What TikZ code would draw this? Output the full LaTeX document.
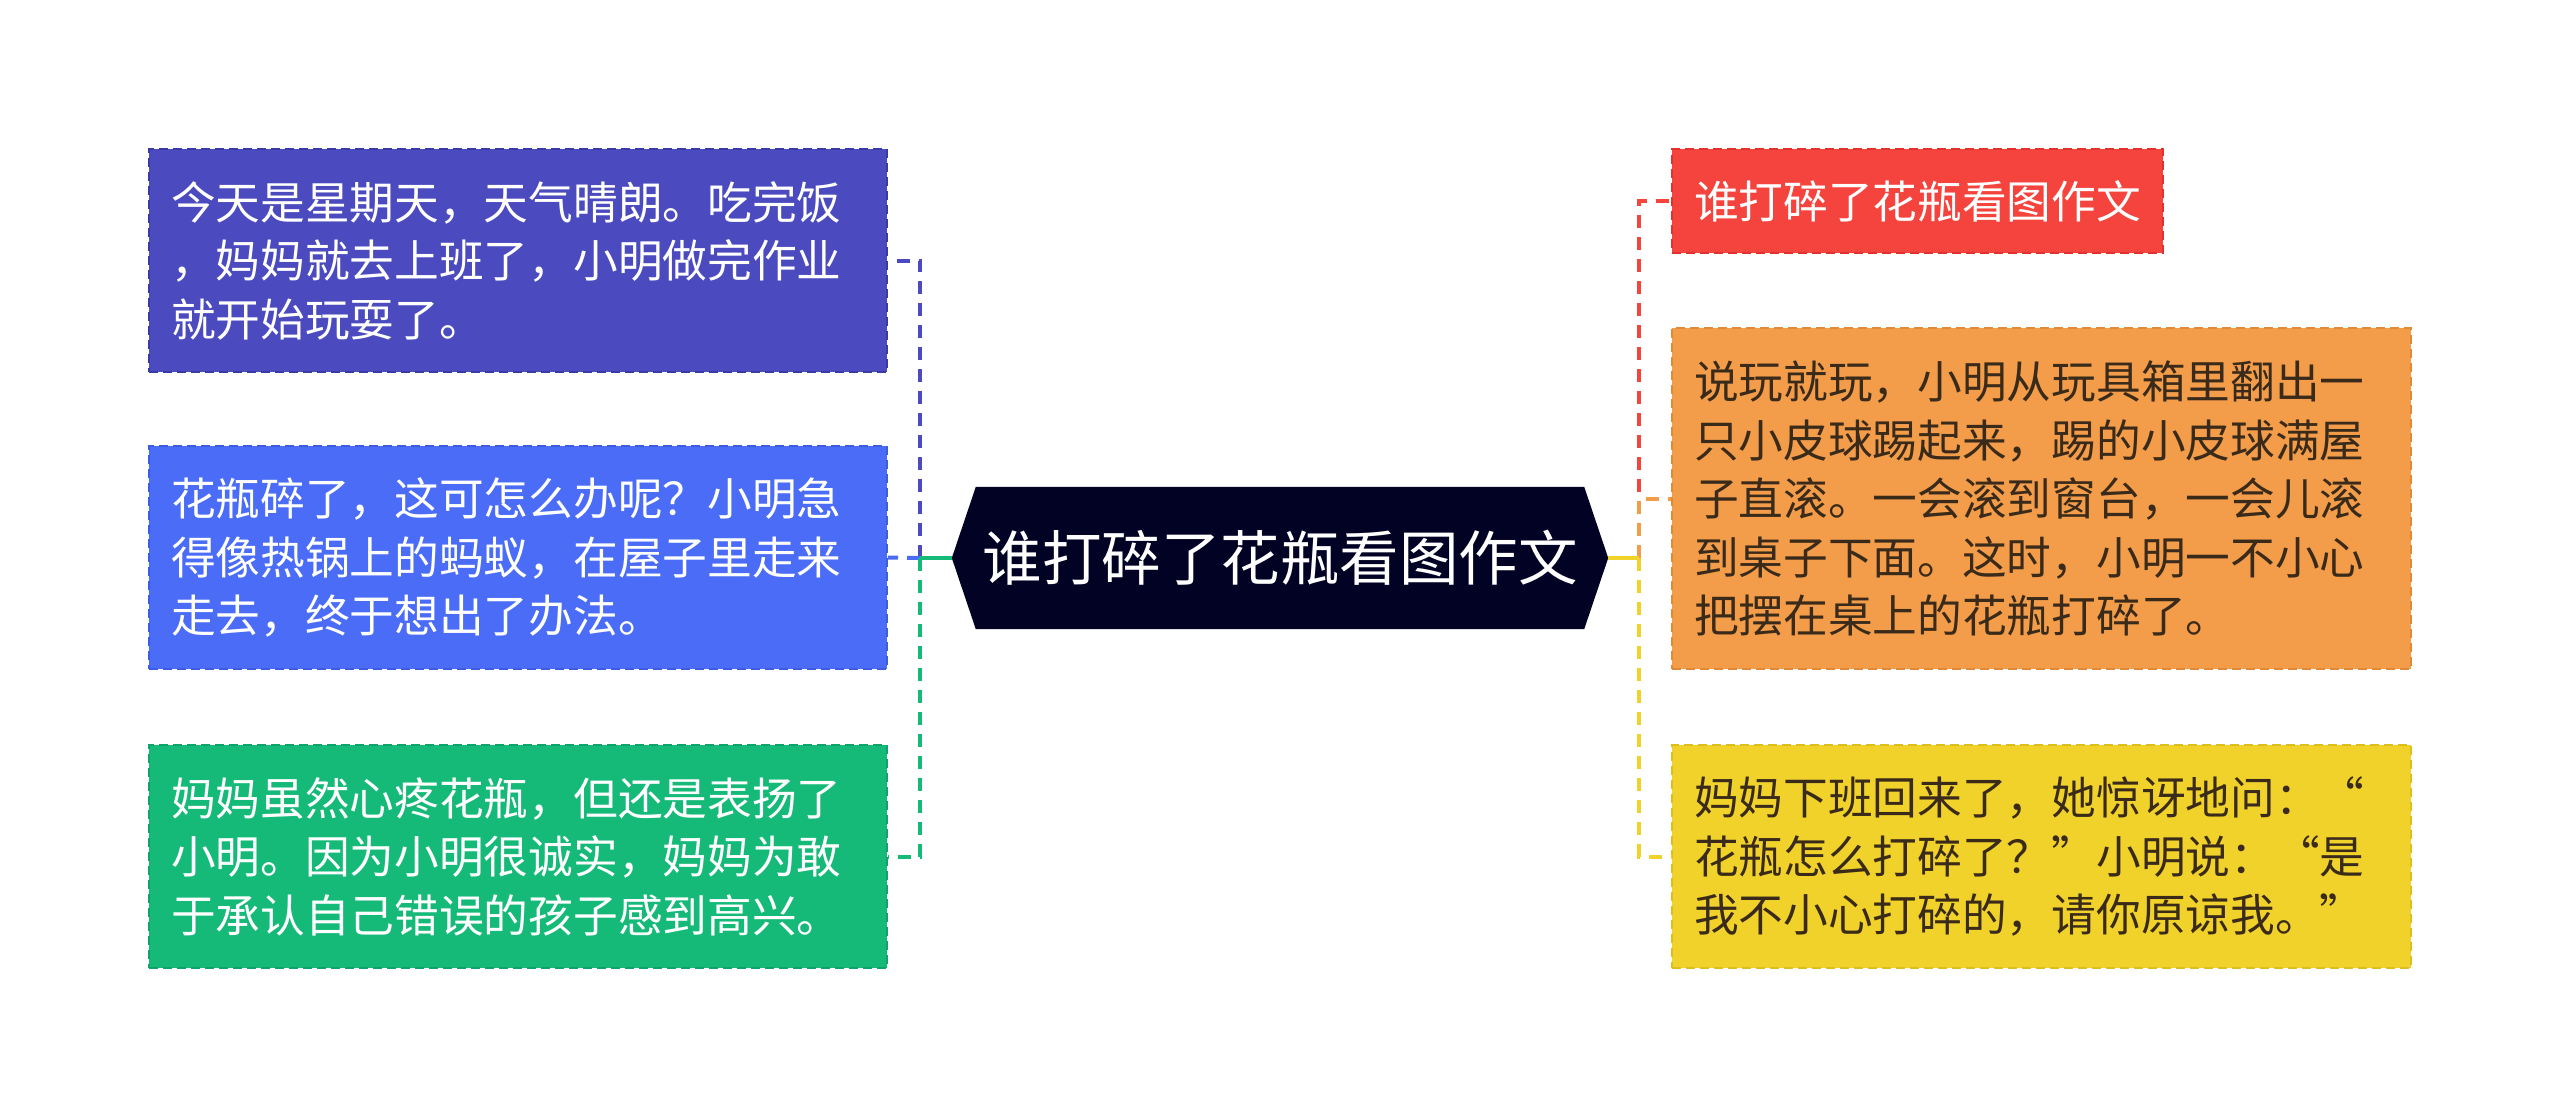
\documentclass[tikz,border=0pt]{standalone}
\usepackage{fontspec}
\newfontfamily\cjk{Noto Sans CJK SC}
\usetikzlibrary{calc,backgrounds}
\definecolor{cIndigo}{HTML}{4B4BBF}
\definecolor{cIndigoD}{HTML}{3A3AA6}
\definecolor{cBlue}{HTML}{4A6CF7}
\definecolor{cBlueD}{HTML}{3D5CE0}
\definecolor{cGreen}{HTML}{16BA78}
\definecolor{cGreenD}{HTML}{10A268}
\definecolor{cNavy}{HTML}{020225}
\definecolor{cRed}{HTML}{F5443E}
\definecolor{cRedD}{HTML}{E0332E}
\definecolor{cOrange}{HTML}{F39D4B}
\definecolor{cOrangeD}{HTML}{E08A38}
\definecolor{cYellow}{HTML}{F0D22B}
\definecolor{cYellowD}{HTML}{DDBE1E}
\definecolor{cDark}{HTML}{3A2A1A}
\tikzset{
  box/.style={draw=#1, dashed, dash pattern=on 9pt off 5pt, line width=1.8pt,
    inner xsep=22pt, inner ysep=0pt, align=left, anchor=center,
    font=\cjk\fontsize{44.7pt}{58.5pt}\selectfont},
  conn/.style={draw=#1, line width=4pt, dash pattern=on 13pt off 9pt},
  stub/.style={draw=#1, line width=4pt},
}
\begin{document}
\begin{tikzpicture}[x=1pt,y=-1pt]
\useasboundingbox (0,0) rectangle (2560,1116);
% center
\node[minimum width=656pt, minimum height=142pt, inner sep=0pt, text=white,
  font=\cjk\fontsize{59.5pt}{70pt}\selectfont] (c) at (1280,558) {谁打碎了花瓶看图作文};
\begin{scope}[on background layer]
\fill[cNavy] (c.west) -- ($(c.north west)+(24,0)$) -- ($(c.north east)+(-24,0)$) -- (c.east)
  -- ($(c.south east)+(-24,0)$) -- ($(c.south west)+(24,0)$) -- cycle;
\end{scope}
% left boxes
\node[box=cIndigoD, fill=cIndigo, text=white, text width=694pt, minimum height=223pt] (b1) at (518,260.5)
 {今天是星期天，天气晴朗。吃完饭\\，妈妈就去上班了，小明做完作业\\就开始玩耍了。};
\node[box=cBlueD, fill=cBlue, text=white, text width=694pt, minimum height=223pt] (b2) at (518,557.5)
 {花瓶碎了，这可怎么办呢？小明急\\得像热锅上的蚂蚁，在屋子里走来\\走去，终于想出了办法。};
\node[box=cGreenD, fill=cGreen, text=white, text width=694pt, minimum height=223pt] (b3) at (518,856.5)
 {妈妈虽然心疼花瓶，但还是表扬了\\小明。因为小明很诚实，妈妈为敢\\于承认自己错误的孩子感到高兴。};
% right boxes
\node[box=cRedD, fill=cRed, text=white, text width=447pt, minimum height=104pt] (r1) at (1917.5,201)
 {谁打碎了花瓶看图作文};
\node[box=cOrangeD, fill=cOrange, text=cDark, text width=695pt, minimum height=341pt] (r2) at (2041.5,498.5)
 {说玩就玩，小明从玩具箱里翻出一\\只小皮球踢起来，踢的小皮球满屋\\子直滚。一会滚到窗台，一会儿滚\\到桌子下面。这时，小明一不小心\\把摆在桌上的花瓶打碎了。};
\node[box=cYellowD, fill=cYellow, text=cDark, text width=695pt, minimum height=223pt] (r3) at (2041.5,856.5)
 {妈妈下班回来了，她惊讶地问：“\\花瓶怎么打碎了？”小明说：“是\\我不小心打碎的，请你原谅我。”};
% junctions
\coordinate (lj) at (920,558);
\coordinate (rj) at (1639,558);
% left connectors
\draw[conn=cIndigo] (lj) |- (b1.east);
\draw[conn=cBlue] (lj) -- (b2.east);
\draw[conn=cGreen] (lj) |- (b3.east);
\draw[stub=cGreen] (c.west) -- (lj);
% right connectors
\draw[conn=cRed] (rj) |- (r1.west);
\draw[conn=cOrange] (rj) |- (r2.west);
\draw[conn=cYellow] (rj) |- (r3.west);
\draw[stub=cYellow] (c.east) -- (rj);
\end{tikzpicture}
\end{document}
